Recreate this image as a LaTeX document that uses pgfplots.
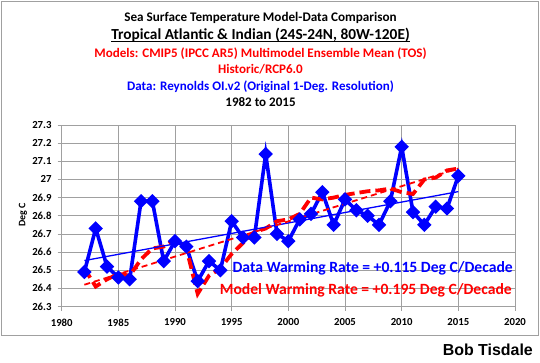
\documentclass[border=0pt]{standalone}
\usepackage{pgfplots}
\pgfplotsset{compat=1.18}
\usepackage{fontspec}
\setmainfont{Carlito}
\newfontfamily\arialfont{Liberation Sans}
\definecolor{xlblue}{RGB}{0,0,255}
\definecolor{xlred}{RGB}{255,0,0}
\definecolor{xlgrid}{RGB}{160,160,160}
\pgfplotstableread{
year data
1982 26.49
1983 26.73
1984 26.52
1985 26.46
1986 26.45
1987 26.88
1988 26.88
1989 26.55
1990 26.66
1991 26.63
1992 26.44
1993 26.55
1994 26.50
1995 26.77
1996 26.68
1997 26.68
1998 27.14
1999 26.70
2000 26.66
2001 26.78
2002 26.81
2003 26.93
2004 26.75
2005 26.89
2006 26.83
2007 26.80
2008 26.75
2009 26.88
2010 27.18
2011 26.82
2012 26.75
2013 26.85
2014 26.84
2015 27.02
}\datatable
\pgfplotstableread{
year model
1982 26.51
1983 26.41
1984 26.45
1985 26.48
1986 26.47
1987 26.56
1988 26.62
1989 26.63
1990 26.67
1991 26.62
1992 26.37
1993 26.47
1994 26.51
1995 26.59
1996 26.65
1997 26.71
1998 26.73
1999 26.77
2000 26.78
2001 26.81
2002 26.90
2003 26.89
2004 26.90
2005 26.915
2006 26.925
2007 26.935
2008 26.94
2009 26.95
2010 26.93
2011 26.92
2012 27.00
2013 27.01
2014 27.05
2015 27.06
}\modeltable
\begin{document}
\begin{tikzpicture}[x=1bp,y=1bp]
\path[use as bounding box] (0,0) rectangle (540,362);
\fill[white] (0,0) rectangle (540,362);
\draw[xlgrid, line width=0.8bp] (1,361) rectangle (538,27);
\begin{axis}[
  at={(61.7bp,55.5bp)}, anchor=south west,
  scale only axis, width=453.3bp, height=181.5bp,
  xmin=1980, xmax=2020, ymin=26.3, ymax=27.3,
  xtick={1980,1985,...,2020},
  ytick={26.3,26.4,...,27.35},
  /pgf/number format/assume math mode=true,
  xticklabel={\textbf{\pgfmathprintnumber[1000 sep={}]{\tick}}},
  yticklabel={\textbf{\pgfmathprintnumber[fixed, precision=1]{\tick}}},
  xticklabel style={font=\fontsize{10.8}{12}\selectfont, inner sep=0pt, yshift=-8bp},
  yticklabel style={font=\fontsize{10.8}{12}\selectfont, inner sep=0pt, xshift=-6bp},
  tick pos=left, tick align=outside, major tick length=4bp,
  tick style={xlgrid, line width=0.8bp},
  grid=major, major grid style={xlgrid, line width=0.8bp},
  axis line style={xlgrid, line width=0.8bp},
  clip=false,
]
\addplot[xlblue, line width=3.6bp, mark=square*, mark size=3.3bp, mark options={rotate=45, solid}] table[x=year, y=data] {\datatable};
\addplot[xlred, line width=3.8bp, dash pattern=on 11bp off 5bp] table[x=year, y=model] {\modeltable};
\addplot[xlblue, line width=1.3bp] coordinates {(1982,26.553) (2015,26.933)};
\addplot[xlred, line width=1.8bp, dash pattern=on 6bp off 4bp] coordinates {(1982,26.42) (2015,27.06)};
\end{axis}
\node[rotate=90, font=\fontsize{10}{12}\selectfont\bfseries] at (23,147) {Deg C};
\node[font=\fontsize{13.2}{15}\selectfont\bfseries] at (260.5,344.5) {Sea Surface Temperature Model-Data Comparison};
\node[font=\fontsize{15.4}{17}\selectfont\bfseries, anchor=base, inner sep=0pt] (t2) at (260.5,322.5) {Tropical Atlantic \& Indian (24S-24N, 80W-120E)};
\draw[black, line width=0.9bp] ([yshift=-2.2bp]t2.base west) -- ([yshift=-2.2bp]t2.base east);
\node[font=\fontsize{13.1}{15}\selectfont\bfseries, text=xlred] at (260.5,308) {Models: CMIP5 (IPCC AR5) Multimodel Ensemble Mean (TOS)};
\node[font=\fontsize{13.1}{15}\selectfont\bfseries, text=xlred] at (260.5,292.5) {Historic/RCP6.0};
\node[font=\fontsize{13.1}{15}\selectfont\bfseries, text=xlblue] at (260.5,275) {Data: Reynolds OI.v2 (Original 1-Deg. Resolution)};
\node[font=\fontsize{13.1}{15}\selectfont\bfseries] at (260.5,260.3) {1982 to 2015};
\node[anchor=east, inner sep=0pt, font=\fontsize{15.7}{17}\selectfont\bfseries, text=xlblue] at (513,94) {Data Warming Rate = +0.115 Deg C/Decade};
\node[anchor=east, inner sep=0pt, font=\fontsize{15.7}{17}\selectfont\bfseries, text=xlred] at (512,72) {Model Warming Rate = +0.195 Deg C/Decade};
\node[anchor=east, inner sep=0pt, font=\arialfont\fontsize{16}{18}\selectfont\bfseries] at (533,12) {Bob Tisdale};
\end{tikzpicture}
\end{document}
